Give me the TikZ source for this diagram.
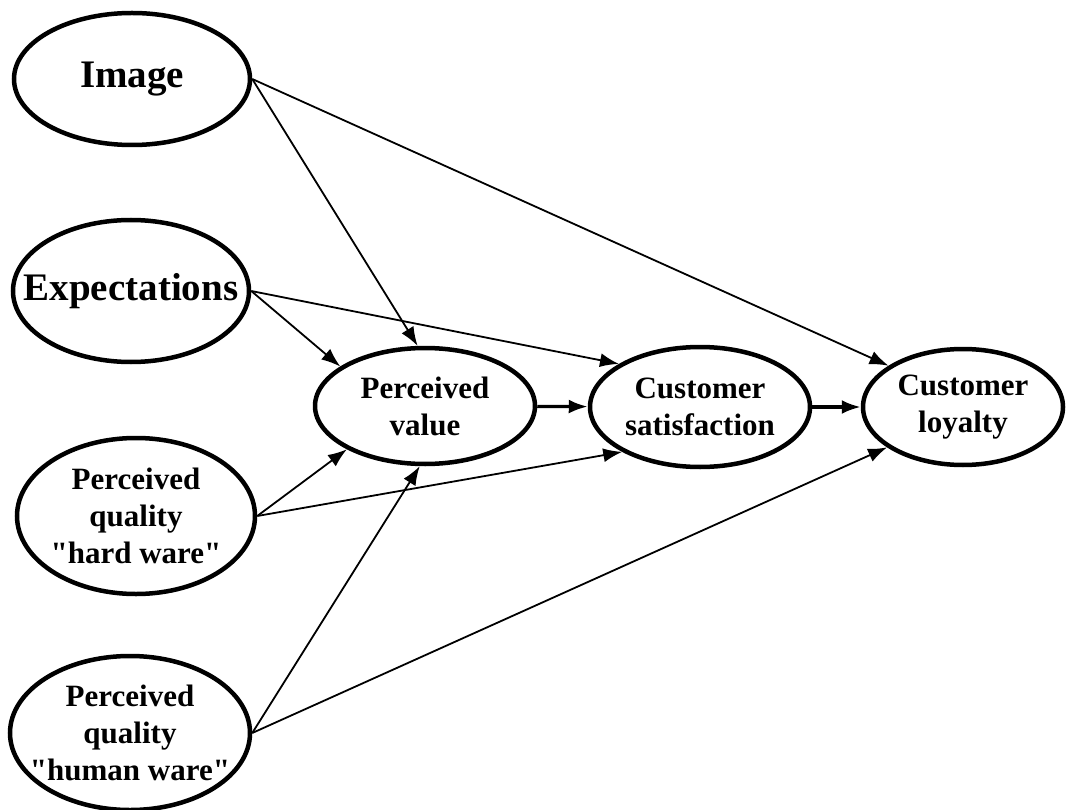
\documentclass[tikz,border=0pt]{standalone}
\usepackage{fontspec}
\setmainfont{Liberation Serif}
\usetikzlibrary{arrows.meta,shapes.geometric}
\tikzset{
	construct/.style={ellipse, draw, line width=4.5pt, inner sep=0pt},
	bigtext/.style={align=center, font=\bfseries\fontsize{39}{45}\selectfont},
	smalltext/.style={align=center, font=\bfseries\fontsize{31}{37}\selectfont},
	link/.style={line width=1.8pt, -{Latex[length=19pt,width=14pt]}},
	mainlink/.style={link, line width=3.2pt}
}

\begin{document}
\begin{tikzpicture}[x=1pt, y=-1pt]
			%%%%% START %%%%%
			
			\useasboundingbox (0, 0) rectangle (1078, 810);
			
			\node[construct, minimum width=236pt, minimum height=132pt, label={[bigtext, name=imagetext]center:Image}] (image) at (132, 79) {};
			\node[construct, minimum width=236pt, minimum height=142pt, label={[bigtext, name=expecttext]center:Expectations}] (expect) at (131, 291) {};
			\node[construct, minimum width=238pt, minimum height=156pt, label={[smalltext, name=hardtext]center:Perceived\\quality\\\textquotedbl hard ware\textquotedbl}] (hardware) at (136, 516) {};
			\node[construct, minimum width=240pt, minimum height=154pt, label={[smalltext, name=humantext]center:Perceived\\quality\\\textquotedbl human ware\textquotedbl}] (humanware) at (130, 733) {};
			
			\node[construct, minimum width=220pt, minimum height=116pt, label={[smalltext, name=valuetext]center:Perceived\\value}] (value) at (425, 406) {};
			\node[construct, minimum width=220pt, minimum height=120pt, label={[smalltext, name=satisftext]center:Customer\\satisfaction}] (satisf) at (700, 407) {};
			\node[construct, minimum width=200pt, minimum height=116pt, label={[smalltext, name=loyaltytext]center:Customer\\loyalty}] (loyalty) at (963, 407) {};
			
			\draw[link] (image.east) -- (value.97);
			\draw[link] (image.east) -- (loyalty.151);
			\draw[link] (expect.east) -- (value.155);
			\draw[link] (expect.east) -- (satisf.152);
			\draw[link] (hardware.east) -- (value.209);
			\draw[link] (hardware.east) -- (satisf.210);
			\draw[link] (humanware.east) -- (value.265);
			\draw[link] (humanware.east) -- (loyalty.208);
			
			\draw[mainlink] (value) -- (satisf);
			\draw[mainlink] (satisf) -- (loyalty);
			
			%%%%% END %%%%%
\end{tikzpicture}
\end{document}
